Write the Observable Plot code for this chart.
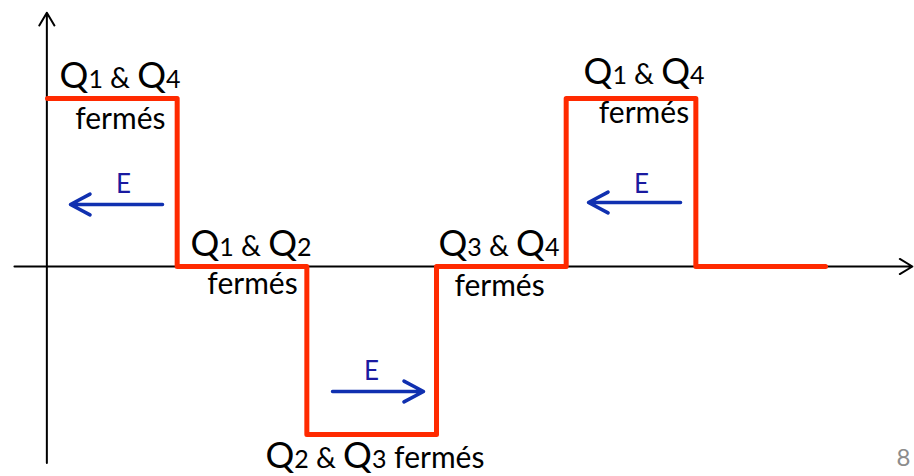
<!DOCTYPE html>
<html>
<head>
<meta charset="utf-8">
<script src="https://cdn.jsdelivr.net/npm/d3@7"></script>
<script src="https://cdn.jsdelivr.net/npm/@observablehq/plot@0.6"></script>
<style>
  html, body { margin: 0; padding: 0; background: #fff; overflow: hidden; }
  #chart svg text { white-space: pre; }
</style>
</head>
<body>
<div id="chart"></div>
<script>
// Square-wave output voltage: time instants (in half-period units) and levels
const times  = [0, 1, 2, 3, 4, 5, 6];
const levels = [1, 0, -1, 0, 1, 0, 0];

// Axis arrows (data units)
const axisLines = [
  {x1: -0.255, y1: 0, x2: 6.67, y2: 0},
  {x1: -0.005, y1: -1.17, x2: -0.005, y2: 1.51}
];

// Switch-state labels
const switchLabels = [
  {t: 0.093, v: 1.06,  text: "Q1 & Q4"},
  {t: 1.103, v: 0.06,  text: "Q1 & Q2"},
  {t: 3.015, v: 0.065, text: "Q3 & Q4"},
  {t: 1.681, v: -1.202, text: "Q2 & Q3 fermés"},
  {t: 4.134, v: 1.089, text: "Q1 & Q4"}
];
const fermesLabels = [
  {t: 0.91,  v: 0.821, anchor: "end"},
  {t: 1.581, v: -0.161, anchor: "middle"},
  {t: 3.486, v: -0.173, anchor: "middle"},
  {t: 4.60,  v: 0.857, anchor: "middle"}
];

// Energy-flow arrows E
const energyArrows = [
  {x1: 0.887, x2: 0.177, y: 0.369},
  {x1: 2.198, x2: 2.90,  y: -0.744},
  {x1: 4.882, x2: 4.172, y: 0.381}
];
const energyLabels = [
  {t: 0.586, v: 0.435},
  {t: 2.499, v: -0.673},
  {t: 4.581, v: 0.44}
];
const pageNumber = [{t: 6.655, v: -1.185, text: "8"}];

const wave = times.map((t, i) => ({t, v: levels[i]}));

const FONT = "Lato, 'Open Sans', sans-serif";

const chart = Plot.plot({
  width: 914,
  height: 476,
  margin: 0,
  style: {background: "#fff", fontFamily: FONT},
  x: {domain: [-47 / 129.67, (914 - 47) / 129.67], axis: null},
  y: {domain: [(266 - 476) / 168, 266 / 168], axis: null},
  marks: [
    Plot.arrow(axisLines, {x1: "x1", y1: "y1", x2: "x2", y2: "y2",
      stroke: "#000", strokeWidth: 2, headLength: 11, headAngle: 62}),
    Plot.line(wave, {x: "t", y: "v", curve: "step-after",
      stroke: "#ff2a00", strokeWidth: 5, strokeLinejoin: "round"}),
    Plot.arrow(energyArrows, {x1: "x1", x2: "x2", y1: "y", y2: "y",
      stroke: "#1030b0", strokeWidth: 3.5, headLength: 9.5, headAngle: 56}),
    Plot.text(energyLabels, {x: "t", y: "v", text: () => "E", lineAnchor: "bottom",
      textAnchor: "middle", fill: "#1a1aa0", fontSize: 26}),
    Plot.text(fermesLabels, {x: "t", y: "v", text: () => "fermés", lineAnchor: "bottom",
      textAnchor: "end", fill: "#000", fontSize: 30}),
    Plot.text(switchLabels, {x: "t", y: "v", text: "text", lineAnchor: "bottom",
      textAnchor: "start", fill: "#000", fontSize: 26}),
    Plot.text(pageNumber, {x: "t", y: "v", text: "text", lineAnchor: "bottom",
      textAnchor: "end", fill: "#8c8c8c", fontSize: 24})
  ]
});

// anchors for the "fermés" labels (middle vs end)
d3.select(chart).selectAll("text")
  .filter(function() { return this.textContent === "fermés"; })
  .each(function(d, i) { this.setAttribute("text-anchor", fermesLabels[i].anchor); });

// Mixed-size rendering of the "Qn & Qm" labels
d3.select(chart).selectAll("text").each(function() {
  const s = this.textContent;
  if (!/Q\d/.test(s)) return;
  const tokens = s.split(/(Q|\d)/).filter(Boolean);
  this.textContent = "";
  for (const tok of tokens) {
    const size = tok === "Q" ? 36 : /^\d$/.test(tok) ? 25 : tok.includes("fermés") ? 30 : 28;
    d3.select(this).append("tspan").attr("font-size", size).text(tok);
  }
});

document.getElementById("chart").appendChild(chart);
</script>
</body>
</html>
